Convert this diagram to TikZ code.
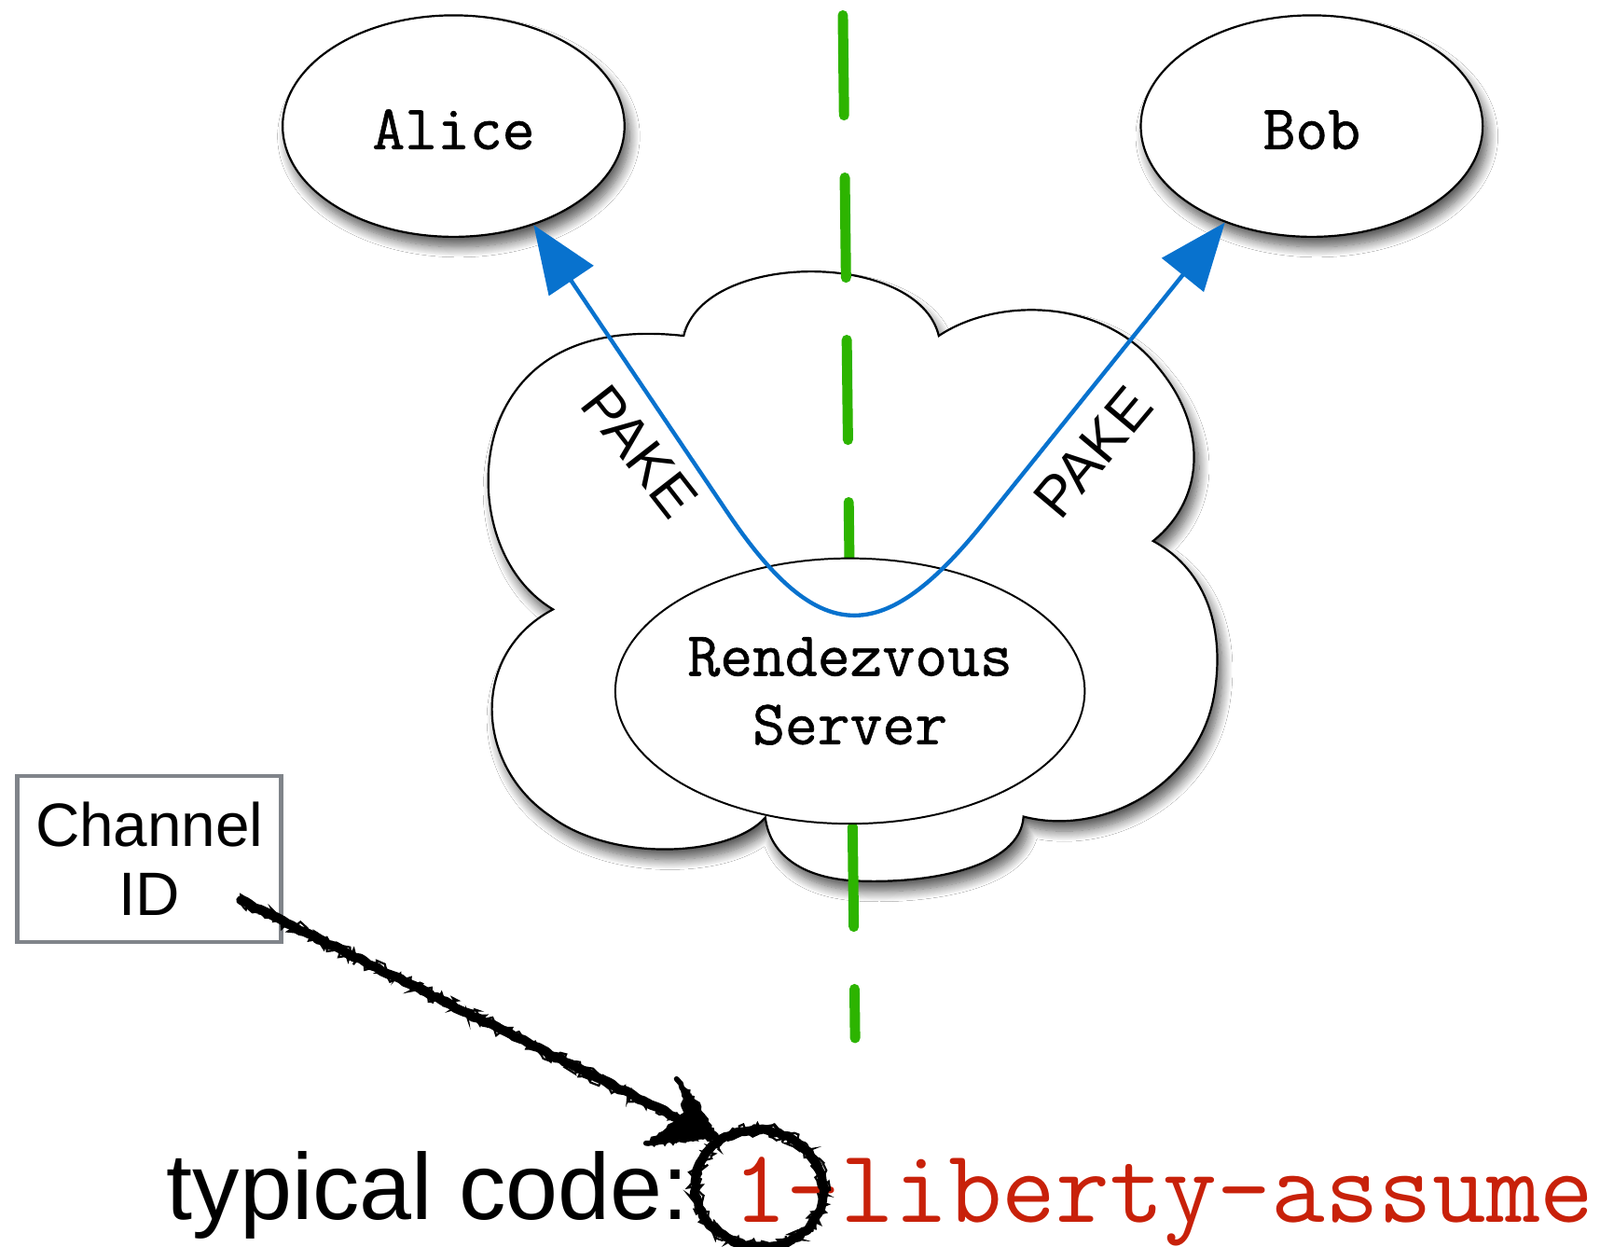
\documentclass[tikz,border=0pt]{standalone}
\usepackage{fontspec}
\usetikzlibrary{shapes.geometric, arrows.meta, decorations.pathmorphing, shadows.blur}
\newfontfamily\labmono[FakeBold=1]{Latin Modern Mono}
\newfontfamily\codemono{Latin Modern Mono}
\newfontfamily\helv{Liberation Sans}
\definecolor{pgreen}{RGB}{45,180,0}
\definecolor{pblue}{RGB}{8,114,206}
\definecolor{pred}{RGB}{200,33,10}
\definecolor{pgray}{RGB}{128,132,138}
\tikzset{
  softshadow/.style={blur shadow={shadow xshift=2.5pt, shadow yshift=-5pt, shadow blur radius=5pt, shadow blur steps=12, shadow opacity=65}},
  party/.style={ellipse, draw=black, line width=1pt, fill=white, minimum width=167.5pt, minimum height=108.5pt,
    inner sep=0pt, font=\labmono\fontsize{30.9}{33.5}\selectfont, text height=22.5pt, text depth=0pt, softshadow},
  server/.style={ellipse, draw=black, line width=0.9pt, fill=white, minimum width=230pt, minimum height=130pt,
    inner sep=0pt, align=center, font=\labmono\fontsize{30.9}{33.5}\selectfont},
  cloudsty/.style={draw=black, line width=1pt, fill=white, softshadow},
  gline/.style={draw=pgreen, line width=5pt, line cap=round, dash pattern=on 49pt off 30.5pt},
  pake/.style={draw=pblue, line width=2pt, {Triangle[length=33pt,width=26pt]}-{Triangle[length=33pt,width=26pt]}},
  pakelab/.style={inner sep=0pt, font=\helv\fontsize{28}{34}\selectfont},
  chanbox/.style={draw=pgray, line width=2.2pt, minimum width=129.3pt, minimum height=81.3pt, inner sep=0pt,
    align=center, font=\helv\fontsize{30}{34}\selectfont},
  sketch/.style={draw=black, line width=4.6pt, line cap=round, line join=round, decorate,
    decoration={random steps, segment length=2.5pt, amplitude=0.6pt}},
  sketchthin/.style={draw=black, line width=1pt, line cap=round, decorate,
    decoration={random steps, segment length=1.5pt, amplitude=2.2pt}}
}
\begin{document}
\begin{tikzpicture}[x=0.5pt, y=-0.5pt]
\useasboundingbox (0,0) rectangle (1568,1221);
\fill[white] (0,0) rectangle (1568,1221);

% cloud
\path[cloudsty] (670,329) .. controls (690,245) and (900,245) .. (920,329)
  .. controls (975,292) and (1080,290) .. (1135,360)
  .. controls (1185,420) and (1180,490) .. (1130,530)
  .. controls (1185,560) and (1200,620) .. (1190,680)
  .. controls (1175,770) and (1080,820) .. (1003,800)
  .. controls (1000,850) and (910,866) .. (840,863)
  .. controls (790,861) and (755,840) .. (750,801)
  .. controls (715,840) and (600,845) .. (540,800)
  .. controls (465,750) and (460,640) .. (542,597)
  .. controls (480,560) and (465,470) .. (490,410)
  .. controls (520,340) and (590,320) .. (670,329) -- cycle;

% green dashed divider
\coordinate (gtop) at (826,15);
\coordinate (gbot) at (838,1017);
\draw[gline] (gtop) -- (gbot);

% nodes
\node[server] (srv) at (833,677) {Rendezvous\\Server};
\node[party] (alice) at (444.5,123.5) {Alice};
\node[party] (bob) at (1285.5,123.5) {Bob};

% PAKE connector
\coordinate (L1) at (711.5,500);
\coordinate (R1) at (965.6,510);
\draw[pake] (alice.-51) -- (L1) .. controls (801.7,634.5) and (864.4,636.5) .. (R1) -- (bob.-132);
\node[pakelab, rotate=-52] (pk1) at (627,442) {PAKE};
\node[pakelab, rotate=50] (pk2) at (1071,443) {PAKE};

% channel id box
\node[chanbox] (chan) at (146.5,841.5) {Channel\\ID};

% bottom text
\node[anchor=base west, inner sep=0pt, font=\helv\fontsize{46}{50}\selectfont] (typ) at (163,1195) {typical code:};
\node[anchor=base west, inner sep=0pt, text=pred, font=\codemono\fontsize{51.2}{56}\selectfont] (code) at (718,1197) {1-liberty-assume};

% hand-drawn circle
\coordinate (circ) at (744,1164);
\draw[sketch, line width=4.4pt, rotate around={-10:(circ)}] (circ) ellipse [x radius=31.5pt, y radius=28.5pt];
\draw[sketchthin, rotate around={-10:(circ)}] (circ) ellipse [x radius=33pt, y radius=30pt];
\draw[sketchthin, rotate around={-10:(circ)}] (circ) ellipse [x radius=30pt, y radius=27pt];

% hand-drawn arrow
\coordinate (astart) at (236,882);
\coordinate (atip) at (700,1113);
\coordinate (ab1) at (663,1057);
\coordinate (ab2) at (633,1120);
\draw[sketch] (astart) -- (atip);
\draw[sketchthin] ([yshift=1.6pt]astart) -- ([yshift=1.6pt]atip);
\draw[sketchthin] ([yshift=-1.6pt]astart) -- ([yshift=-1.6pt]atip);
\fill[black, decorate, decoration={random steps, segment length=2pt, amplitude=1.2pt}]
  (ab1) -- (686,1080) -- (atip) -- (666,1118) -- (ab2) -- (658,1100) -- (670,1090) -- cycle;
\draw[sketchthin] (ab1) -- (atip) -- (ab2);
\draw[sketch, line width=2.6pt] (ab1) -- (atip) -- (ab2);
\end{tikzpicture}
\end{document}
